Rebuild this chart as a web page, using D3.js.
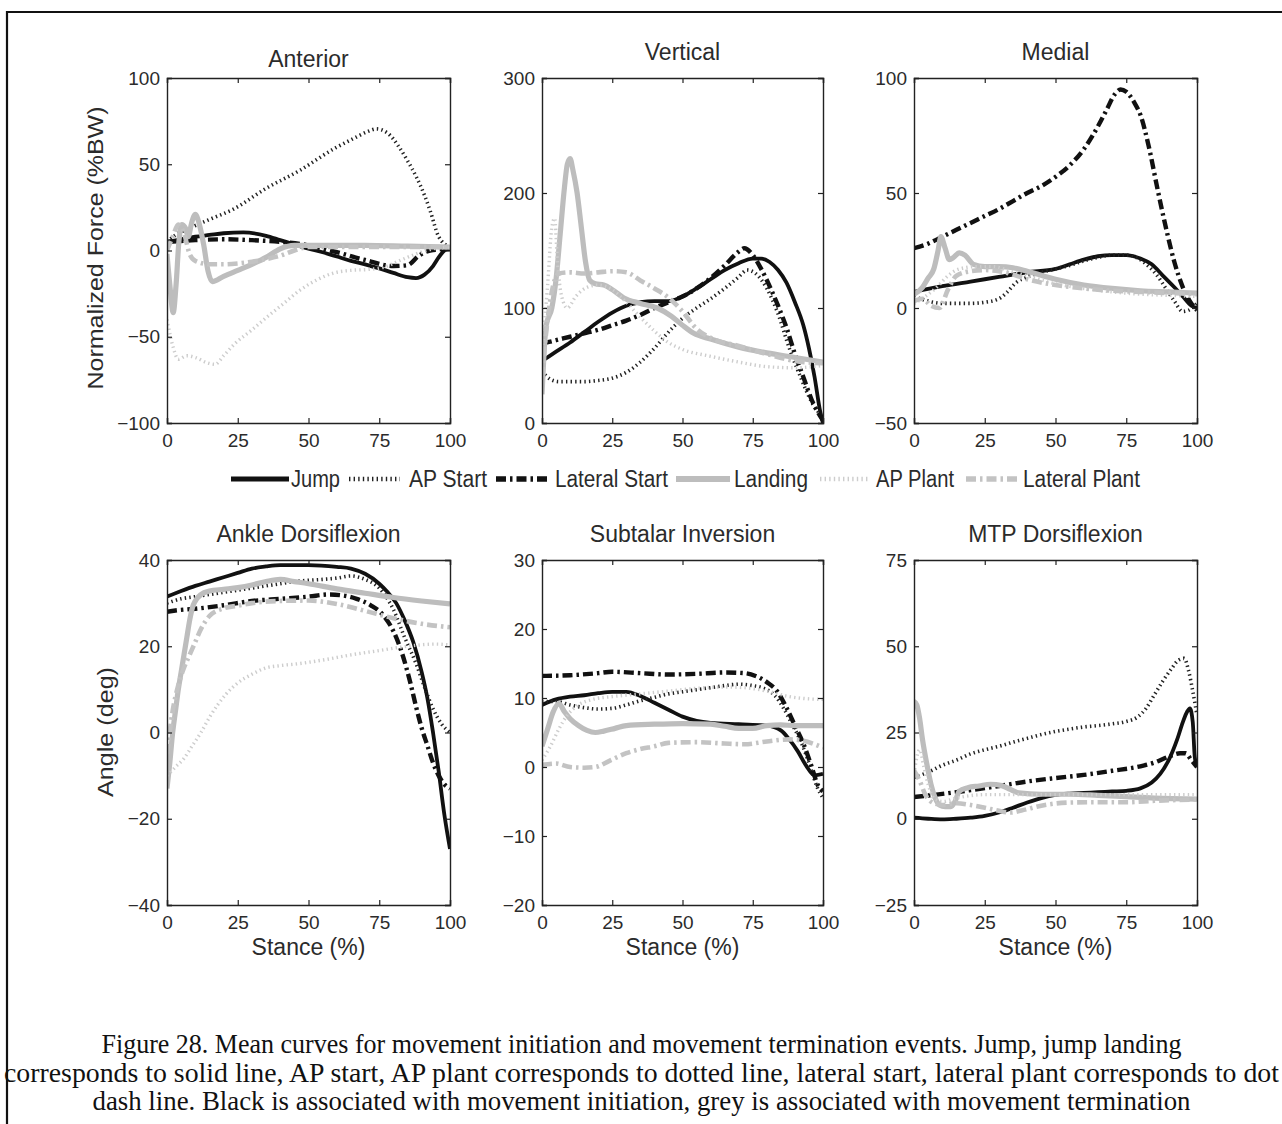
<!DOCTYPE html>
<html><head><meta charset="utf-8">
<script src="https://cdn.jsdelivr.net/npm/d3@7"></script>
<style>body{margin:0;background:#fff} svg{display:block}</style>
</head><body><svg id="fig" width="1282" height="1124"></svg>
<script>
// ---------------- DATA (stance %, value) ----------------
const seriesNames = ["Jump","AP Start","Lateral Start","Landing","AP Plant","Lateral Plant"];
const stanceTicks = [0,25,50,75,100];

// Anterior (%BW)
const antJump = [[0,5],[5,6.5],[10,8],[15,9],[20,10],[27,10.5],[35,8.5],[40,6],[45,3.5],[50,1],[55,-1],[60,-3.5],[65,-6],[70,-8],[75,-10.4],[80,-13],[85,-15.5],[88,-16],[91,-14],[94,-9],[96,-4],[98,0],[100,2]];
const antAPStart = [[0,5],[3,9],[8,13],[15,18],[23.5,24],[35,36],[47,46.5],[59,59],[66,65],[71,69],[74,70.5],[78,68],[82,60],[85,52],[88,43],[91,32],[93,23],[96,8],[100,2]];
const antLatStart = [[0,5],[10,6],[20,6.5],[30,6],[40,5],[50,3],[60,-1],[70,-5.5],[80,-9],[85,-8.5],[89,-3],[93,0],[100,1]];
const antLanding = [[0,-2],[1,-20],[2.2,-36],[3.2,-20],[4.2,5],[5.2,15],[6.5,13],[7.5,8],[8.7,16],[10,21],[11.3,16],[13,3],[14.5,-12],[16,-18],[20,-15],[25,-11.5],[30,-8],[35,-4],[40,1],[45,3],[55,3],[70,3],[85,2.5],[100,2]];
const antAPPlant = [[0,-40],[2,-55],[4,-63],[7,-61],[10,-62],[14,-65],[17,-66],[20,-61],[24,-54],[30,-46],[35,-39],[41,-31],[47,-23],[53,-17],[59,-13],[65,-11.5],[71,-11],[77,-9.5],[82,-6],[88,-2],[94,1],[100,2]];
const antLatPlant = [[0,0],[2,8],[4,15],[6,10],[8,-2],[10,-6],[15,-8],[20,-8],[25,-7.5],[30,-6.5],[35,-5],[40,-3],[45,0],[50,2],[60,2],[70,2],[80,2],[90,2],[100,2]];
const antTicks = [-100,-50,0,50,100];

// Vertical (%BW)
const vertJump = [[0,54],[5,62],[10,70],[15,79],[20,88],[25,96],[30,102],[35,105],[40,106],[45,106],[50,110],[55,117],[60,125],[65,133],[70,139],[75,143],[78,143],[81,140],[84,133],[87,122],[90,105],[93,85],[95,65],[97,40],[99,10],[100,0]];
const vertAPStart = [[0,45],[3,38],[6,36],[10,36],[15,36],[20,37],[25,39],[30,44],[35,53],[40,65],[45,79],[50,91],[55,100],[60,108],[65,117],[70,127],[73,133],[76,130],[80,117],[84,95],[88,65],[92,40],[96,18],[100,5]];
const vertLatStart = [[0,69],[5,72],[10,75],[15,78],[20,81],[25,85],[30,89],[35,94],[40,100],[45,105],[50,110],[55,117],[60,126],[65,137],[70,149],[72,152],[75,146],[78,134],[81,119],[84,102],[87,83],[90,60],[93,40],[96,20],[100,2]];
const vertLanding = [[0,25],[0.7,60],[1.5,85],[3.5,100],[5,125],[6.5,165],[8,205],[9,225],[10,230],[11,220],[12.5,200],[14,170],[15.5,140],[17,124],[19,121],[22,120],[25,116],[29,109],[35,104],[41,100],[46,93],[50,85],[54,78],[60,73],[70,66],[80,61],[90,57],[100,53]];
const vertAPPlant = [[0,60],[2,120],[3.5,170],[4.5,178],[5.5,140],[7,110],[9,100],[12,110],[16,118],[20,120],[25,116],[30,105],[35,92],[40,80],[45,70],[50,64],[60,58],[70,53],[80,49],[90,48],[100,50]];
const vertLatPlant = [[0,40],[2,90],[4,120],[6,130],[10,131],[15,130],[20,131],[25,132],[30,131],[35,124],[40,117],[45,109],[50,97],[55,82],[60,74],[70,67],[80,60],[90,54],[100,52]];
const vertTicks = [0,100,200,300];

// Medial (%BW)
const medJump = [[0,7],[10,9.5],[20,11.5],[30,13.5],[40,15.5],[50,17],[55,19],[60,21],[65,22.5],[70,23],[75,23],[80,21.5],[84,19],[88,14],[92,9],[95,5],[98,1],[100,0]];
const medAPStart = [[0,5],[5,3],[10,2],[15,2],[20,2],[25,2.5],[30,4],[33,7],[36,11],[40,13.5],[45,15.5],[50,17],[55,18.5],[60,20.5],[65,22],[70,23],[75,23],[80,21],[83,18],[86,14],[89,8.5],[92,3],[95,-1.5],[97,-1],[100,2]];
const medLatStart = [[0,26],[5,28],[10,31],[15,34],[20,37],[25,40],[30,43],[35,46.5],[40,50],[45,53],[50,57],[55,62],[60,69],[65,79],[68,86],[71,93],[73,95],[75,94],[78,89],[80,84],[83,70],[86,52],[89,35],[92,20],[95,9],[98,2],[100,-1]];
const medLanding = [[0,6],[3,9],[5,13],[7,17],[8.5,25],[9.5,31],[11,26],[12.5,21],[14,22],[16,24],[18,23],[21,19],[25,18],[30,18],[35,17.5],[40,16],[50,12.5],[60,10],[70,8.5],[80,7.5],[90,7],[100,6.5]];
const medAPPlant = [[0,2],[4,5],[8,9],[12,14],[16,17],[22,18],[28,18],[34,16],[40,14],[50,10.5],[60,8.5],[70,7],[80,6],[90,5.5],[100,5]];
const medLatPlant = [[0,3],[3,4],[6,1],[9,0],[12,8],[15,14],[20,16],[25,16.5],[30,16],[35,14.5],[40,12.5],[50,10],[60,8.5],[70,7.5],[80,7],[90,6.5],[100,6]];
const medTicks = [-50,0,50,100];

// Ankle Dorsiflexion (deg)
const ankJump = [[0,31.5],[5,32.8],[10,34],[15,35],[20,36],[25,37],[30,38],[35,38.5],[40,38.8],[50,38.8],[60,38.4],[65,38],[70,36.8],[75,34.5],[78,32.5],[81,30],[84,26],[87,21],[90,14],[92,8],[94,0],[96,-9],[98,-19],[100,-27]];
const ankAPStart = [[0,30],[5,31],[10,31.5],[15,32],[20,32.5],[25,33],[30,33.5],[35,34],[40,34.5],[45,35],[50,35.3],[55,35.5],[60,35.8],[65,36.3],[70,35.5],[75,33.5],[80,28.5],[84,22],[88,16],[91,10.5],[94,5.5],[97,2],[100,0]];
const ankLatStart = [[0,28],[3,28.3],[10,28.7],[20,29.5],[30,30.5],[40,31],[50,31.5],[57,32],[62,31.8],[67,31],[72,29.5],[76,27.5],[80,23.5],[83,18.5],[86,11.5],[88,6],[90,1],[92,-3],[94,-7],[96,-10],[98,-12],[100,-13]];
const ankLanding = [[0,-13],[1,-7],[2,0],[3,5],[4,10],[5,14],[6,18],[7,22],[8,26],[9,29],[10,30.5],[12,32],[15,32.8],[20,33.2],[25,33.6],[30,34.2],[35,35],[40,35.5],[45,35],[50,34.5],[60,33.3],[70,32.3],[80,31.3],[90,30.5],[100,29.8]];
const ankAPPlant = [[0,-10],[3,-8],[6,-6],[9,-3],[12,0],[15,3.5],[18,6.5],[21,9],[25,11.5],[30,13.5],[35,15],[40,15.5],[47,16],[55,16.8],[65,18],[75,19],[85,20],[95,20.5],[100,20.3]];
const ankLatPlant = [[0,-5],[2,5],[4,11],[6,15],[8,18],[10,21],[12,24],[15,27],[20,28.8],[25,29.4],[30,30],[40,30.5],[50,30.6],[60,29.8],[70,28.2],[80,26.5],[90,25.2],[100,24.4]];
const ankTicks = [-40,-20,0,20,40];

// Subtalar Inversion (deg)
const subJump = [[0,9],[5,9.8],[10,10.2],[15,10.4],[20,10.7],[25,10.9],[30,10.9],[35,10.3],[40,9.3],[45,8.3],[50,7.3],[55,6.7],[60,6.4],[70,6.2],[80,6],[85,5.3],[88,4],[91,2.3],[94,0.2],[97,-1.2],[100,-1]];
const subAPStart = [[0,9.5],[5,9.5],[10,9],[15,8.6],[20,8.4],[25,8.5],[30,9],[35,9.6],[40,10.1],[45,10.6],[50,10.9],[55,11.2],[60,11.5],[65,11.8],[70,12],[75,11.8],[79,11.4],[83,10.3],[86,8.5],[89,6.2],[92,3.8],[95,0.6],[98,-3],[100,-4.5]];
const subLatStart = [[0,13.2],[10,13.3],[20,13.6],[25,13.8],[35,13.6],[45,13.4],[55,13.5],[65,13.7],[72,13.6],[76,13.2],[80,12.3],[84,10.8],[87,8.6],[90,6],[93,3.4],[96,0],[98,-2.5],[100,-3.5]];
const subLanding = [[0,3],[2,5.5],[4,8],[6,9.2],[8,8],[10,7],[13,6],[16,5.3],[19,5],[22,5.2],[26,5.6],[30,6],[40,6.2],[50,6.3],[60,6.2],[65,5.9],[70,5.6],[75,5.6],[80,6],[85,6.1],[90,6],[100,6]];
const subAPPlant = [[0,1],[3,3],[6,5.5],[9,7.5],[13,9],[18,9.8],[25,10.2],[35,10.6],[45,11],[55,11.4],[65,11.6],[72,11.5],[80,11],[88,10.2],[94,9.9],[100,9.8]];
const subLatPlant = [[0,0.3],[5,0.5],[10,0],[15,-0.1],[19,0],[24,0.9],[30,2],[35,2.6],[40,3],[45,3.5],[55,3.6],[65,3.4],[72,3.3],[80,3.7],[88,4],[93,3.8],[97,3.3],[100,2.8]];
const subTicks = [-20,-10,0,10,20,30];

// MTP Dorsiflexion (deg)
const mtpJump = [[0,0.3],[5,0],[10,-0.2],[15,0],[20,0.3],[25,0.8],[30,1.8],[35,3.2],[40,4.7],[45,6],[50,6.9],[55,7.3],[60,7.5],[65,7.7],[70,7.9],[75,8.1],[80,8.8],[84,10.5],[87,13],[90,17],[93,23],[95,28],[96.5,31],[97.5,32],[98.5,28],[99.2,18],[100,15]];
const mtpAPStart = [[0,12],[5,13.5],[10,15.5],[15,17],[20,18.8],[25,20],[30,21],[35,22.2],[40,23.3],[45,24.4],[50,25.3],[55,26],[60,26.6],[65,27],[70,27.5],[75,28.2],[79,29.5],[82,32],[85,36],[88,40],[91,43.5],[93.5,46],[95.5,46.5],[97,43],[98.5,37],[100,30]];
const mtpLatStart = [[0,6.3],[10,7.2],[20,8.3],[30,9.5],[40,10.8],[50,11.8],[60,12.7],[70,13.9],[80,15.2],[85,16.3],[90,18],[94,19],[96,19],[98,17],[100,15]];
const mtpLanding = [[0,34],[1,33],[2,29],[3,23],[4.5,16],[6,10],[7.5,6],[9,4],[11,3.5],[13,3.5],[14.5,5],[16,8],[19,9],[23,9.5],[27,10],[31,9.6],[34,8.5],[37,7.5],[45,7.1],[55,7.1],[65,6.8],[75,6.4],[85,6],[100,5.7]];
const mtpAPPlant = [[0,13],[2,20],[3.5,15],[5,10],[7,6],[10,5],[15,6],[25,7],[40,7],[60,7],[80,7],[100,7]];
const mtpLatPlant = [[0,14],[2,11],[4,7],[7,4.5],[10,4],[15,4.5],[20,4],[25,3.2],[30,2.3],[34,1.8],[38,2.4],[45,3.8],[55,4.7],[65,4.8],[75,4.8],[85,5.2],[100,5.6]];
const mtpTicks = [-25,0,25,50,75];

const captionLines = [
  "Figure 28. Mean curves for movement initiation and movement termination events. Jump, jump landing",
  "corresponds to solid line, AP start, AP plant corresponds to dotted line, lateral start, lateral plant corresponds to dot",
  "dash line. Black is associated with movement initiation, grey is associated with movement termination"
];

// ---------------- STYLES / LAYOUT ----------------
const styles = [
  {color:"#111", width:3.8, dash:null},
  {color:"#222", width:3.6, dash:"1.4,3.2"},
  {color:"#111", width:4.4, dash:"10,4,2.5,4"},
  {color:"#bdbdbd", width:5.2, dash:null},
  {color:"#cdcdcd", width:3.4, dash:"1.4,3.2"},
  {color:"#c3c3c3", width:4.6, dash:"10,4,2.5,4"}
];

const panels = [
  {title:"Anterior", x:167, y:78, w:283, h:345, dom:[-100,100], ticks:antTicks, titleY:67,
   data:[antJump,antAPStart,antLatStart,antLanding,antAPPlant,antLatPlant]},
  {title:"Vertical", x:542, y:78, w:281, h:345, dom:[0,300], ticks:vertTicks, titleY:60,
   data:[vertJump,vertAPStart,vertLatStart,vertLanding,vertAPPlant,vertLatPlant]},
  {title:"Medial", x:914, y:78, w:283, h:345, dom:[-50,100], ticks:medTicks, titleY:60,
   data:[medJump,medAPStart,medLatStart,medLanding,medAPPlant,medLatPlant]},
  {title:"Ankle Dorsiflexion", x:167, y:560, w:283, h:345, dom:[-40,40], ticks:ankTicks, titleY:542, xlabel:true,
   data:[ankJump,ankAPStart,ankLatStart,ankLanding,ankAPPlant,ankLatPlant]},
  {title:"Subtalar Inversion", x:542, y:560, w:281, h:345, dom:[-20,30], ticks:subTicks, titleY:542, xlabel:true,
   data:[subJump,subAPStart,subLatStart,subLanding,subAPPlant,subLatPlant]},
  {title:"MTP Dorsiflexion", x:914, y:560, w:283, h:345, dom:[-25,75], ticks:mtpTicks, titleY:542, xlabel:true,
   data:[mtpJump,mtpAPStart,mtpLatStart,mtpLanding,mtpAPPlant,mtpLatPlant]}
];

const FONT = "Arial, 'Liberation Sans', Helvetica, sans-serif";
const svg = d3.select("#fig");
svg.append("rect").attr("width",1282).attr("height",1124).attr("fill","#fff");

// outer frame (open on right/bottom as in the scan)
svg.append("path").attr("d","M7,1124 V12 H1282").attr("fill","none").attr("stroke","#111").attr("stroke-width",2.2);

const defs = svg.append("defs");

panels.forEach((p,i)=>{
  const g = svg.append("g").attr("transform",`translate(${p.x},${p.y})`);
  const xs = d3.scaleLinear().domain([0,100]).range([0,p.w]);
  const ys = d3.scaleLinear().domain(p.dom).range([p.h,0]);

  defs.append("clipPath").attr("id","clip"+i).append("rect").attr("width",p.w).attr("height",p.h);

  const line = d3.line().x(d=>xs(d[0])).y(d=>ys(d[1])).curve(d3.curveMonotoneX);
  const lg = g.append("g").attr("clip-path",`url(#clip${i})`);
  p.data.forEach((s,k)=>{
    const st = styles[k];
    lg.append("path").datum(s).attr("d",line)
      .attr("fill","none").attr("stroke",st.color).attr("stroke-width",st.width)
      .attr("stroke-dasharray",st.dash).attr("stroke-linejoin","round");
  });

  // axes with inward ticks
  const fmt = d3.format("d");
  const ax = [
    g.append("g").attr("transform",`translate(0,${p.h})`).call(d3.axisBottom(xs).tickValues(stanceTicks).tickSize(-5).tickPadding(13).tickFormat(fmt)),
    g.append("g").call(d3.axisLeft(ys).tickValues(p.ticks).tickSize(-5).tickPadding(7).tickFormat(fmt)),
    g.append("g").call(d3.axisTop(xs).tickValues(stanceTicks).tickSize(-5).tickFormat("")),
    g.append("g").attr("transform",`translate(${p.w},0)`).call(d3.axisRight(ys).tickValues(p.ticks).tickSize(-5).tickFormat(""))
  ];
  ax.forEach(a=>{
    a.select(".domain").attr("stroke","#222").attr("stroke-width",1.4);
    a.selectAll(".tick line").attr("stroke","#222").attr("stroke-width",1.2);
    a.selectAll(".tick text").attr("fill","#2b2b2b").style("font-family",FONT).style("font-size","19px");
  });
  ax[0].selectAll(".tick text").attr("dy","0.6em");

  svg.append("text").attr("x",p.x+p.w/2).attr("y",p.titleY).attr("text-anchor","middle")
    .style("font-family",FONT).style("font-size","23px").attr("fill","#2b2b2b").text(p.title);

  if (p.xlabel) {
    svg.append("text").attr("x",p.x+p.w/2).attr("y",955).attr("text-anchor","middle")
      .style("font-family",FONT).style("font-size","23px").attr("fill","#2b2b2b").text("Stance (%)");
  }
});

// y labels
svg.append("text").attr("transform","translate(103,248) rotate(-90)").attr("text-anchor","middle")
  .attr("textLength",283).attr("lengthAdjust","spacingAndGlyphs")
  .style("font-family",FONT).style("font-size","22px").attr("fill","#2b2b2b").text("Normalized Force (%BW)");
svg.append("text").attr("transform","translate(113,732) rotate(-90)").attr("text-anchor","middle")
  .attr("textLength",130).attr("lengthAdjust","spacingAndGlyphs")
  .style("font-family",FONT).style("font-size","22px").attr("fill","#2b2b2b").text("Angle (deg)");

// legend (condensed look: Arial squeezed to the measured widths)
const legendSwatch = [[231,289],[349,400],[496,549],[676,730],[820,870],[966,1017]];
const legendText = [[291,49],[409,78],[555,113],[734,74],[876,78],[1023,117]];
const LY = 479;
seriesNames.forEach((n,k)=>{
  const st = styles[k];
  svg.append("line").attr("x1",legendSwatch[k][0]).attr("x2",legendSwatch[k][1]).attr("y1",LY).attr("y2",LY)
    .attr("stroke",st.color).attr("stroke-width",st.width+1).attr("stroke-dasharray",st.dash);
  svg.append("text").attr("x",legendText[k][0]).attr("y",LY+8)
    .attr("textLength",legendText[k][1]).attr("lengthAdjust","spacingAndGlyphs")
    .style("font-family",FONT).style("font-size","23px")
    .attr("fill","#2b2b2b").text(n);
});

// caption
const capW = [1080,1275,1098];
const capY = [1053,1082,1110];
captionLines.forEach((t,i)=>{
  svg.append("text").attr("x",641.5).attr("y",capY[i]).attr("text-anchor","middle")
    .attr("textLength",capW[i]).attr("lengthAdjust","spacingAndGlyphs")
    .style("font-family","'Liberation Serif', 'Times New Roman', Times, serif").style("font-size","27px")
    .attr("fill","#111").text(t);
});
</script></body></html>
